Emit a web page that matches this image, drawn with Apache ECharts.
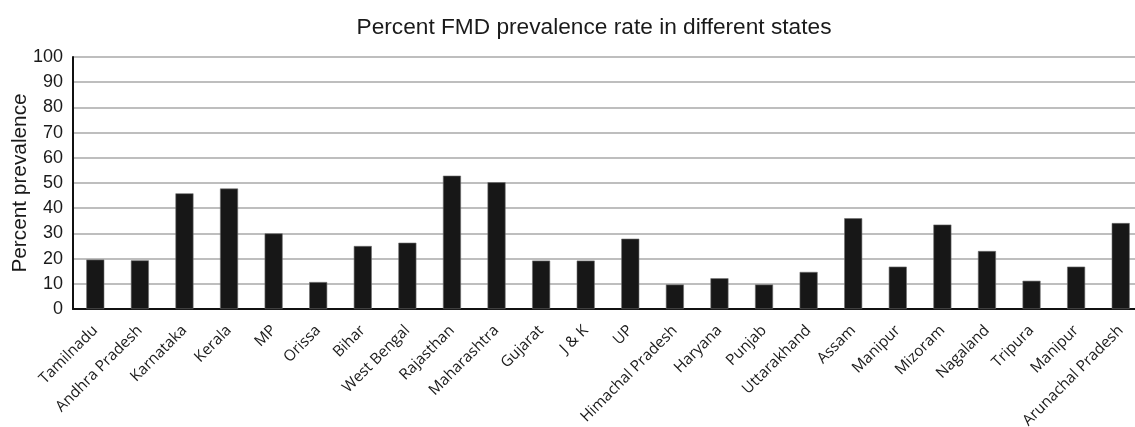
<!DOCTYPE html>
<html>
<head>
<meta charset="utf-8">
<script src="https://cdn.jsdelivr.net/npm/echarts@6/dist/echarts.min.js"></script>
<style>
html,body{margin:0;padding:0;background:#fff;}
#chart{width:1135px;height:427px;}
</style>
</head>
<body>
<div id="chart"></div>
<script>
const categories = ["Tamilnadu","Andhra Pradesh","Karnataka","Kerala","MP","Orissa","Bihar","West Bengal","Rajasthan","Maharashtra","Gujarat","J & K","UP","Himachal Pradesh","Haryana","Punjab","Uttarakhand","Assam","Manipur","Mizoram","Nagaland","Tripura","Manipur","Arunachal Pradesh"];
const prevalence = [19.6,19.3,45.9,47.8,30.0,10.7,25.0,26.3,52.9,50.3,19.2,19.2,27.9,9.7,12.2,9.7,14.7,36.0,16.8,33.5,23.0,11.2,16.8,34.1];
const yTicks = [0,10,20,30,40,50,60,70,80,90,100];

const chart = echarts.init(document.getElementById('chart'), null, {renderer:'canvas'});
chart.setOption({
  animation:false,
  backgroundColor:'#ffffff',
  title:{
    text:'Percent FMD prevalence rate in different states',
    left:589, top:11, textAlign:'center',
    textStyle:{fontFamily:'Liberation Sans, Arial, sans-serif',fontSize:22.7,fontWeight:'normal',color:'#1a1a1a'}
  },
  grid:{left:73, top:57, width:1070, height:252, containLabel:false, outerBoundsMode:'none'},
  xAxis:{
    type:'category',
    data:categories,
    axisLine:{show:true, lineStyle:{color:'#111111', width:2}},
    axisTick:{show:false},
    axisLabel:{
      interval:0, rotate:45, margin:19,
      fontFamily:'Open Sans, sans-serif', fontSize:15.3, color:'#1a1a1a'
    }
  },
  yAxis:{
    type:'value', min:yTicks[0], max:yTicks[yTicks.length-1], interval:10,
    name:'Percent prevalence', nameLocation:'middle', nameGap:42, nameMoveOverlap:false,
    nameTextStyle:{fontFamily:'Liberation Sans, Arial, sans-serif', fontSize:20.8, color:'#1a1a1a'},
    axisLine:{show:true, lineStyle:{color:'#111111', width:2}},
    axisTick:{show:false},
    axisLabel:{fontFamily:'Liberation Sans, Arial, sans-serif', fontSize:18, color:'#1a1a1a', margin:10},
    splitLine:{show:true, lineStyle:{color:'#a8a8a8', width:1.5}}
  },
  series:[{
    type:'bar',
    data:prevalence,
    barWidth:18,
    itemStyle:{color:'#171717', borderColor:'#6e6e6e', borderWidth:0.6}
  }]
});
</script>
</body>
</html>
